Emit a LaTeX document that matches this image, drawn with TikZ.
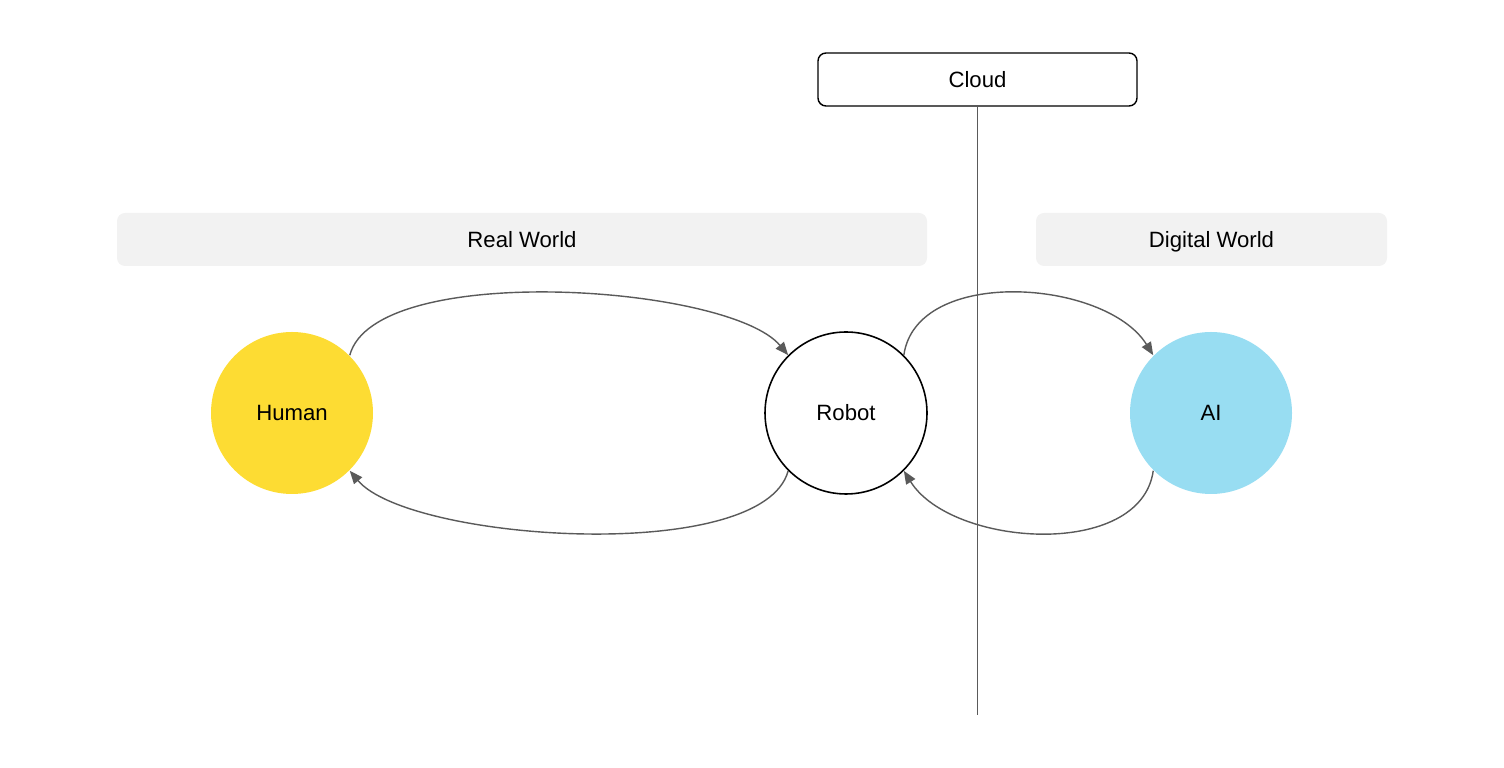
\documentclass[tikz,border=0pt]{standalone}
\usepackage{fontspec}
\setmainfont{Liberation Sans}
\usepackage{tikz}
\usetikzlibrary{arrows.meta}
\definecolor{humanyellow}{RGB}{253,220,51}
\definecolor{aiblue}{RGB}{152,221,242}
\definecolor{worldgray}{RGB}{242,242,242}
\definecolor{linkgray}{RGB}{90,90,90}
\tikzset{%
  >={Triangle[width=1.05mm,length=1.3mm]},
            base/.style = {rectangle, rounded corners=0.8mm, inner sep=0pt,
                           minimum height=0.53cm, text centered,
                           text height=1.6mm, text depth=0pt,
                           font=\fontsize{6.3}{7.5}\selectfont},
  cloudbox/.style = {base, draw=black, line width=0.4pt, fill=white},
  world/.style    = {base, fill=worldgray},
  agent/.style    = {circle, inner sep=0pt, minimum size=1.62cm,
                     text height=1.6mm, text depth=0pt,
                     font=\fontsize{6.3}{7.5}\selectfont},
  link/.style     = {->, draw=linkgray, line width=0.4pt},
}
\begin{document}
\begin{tikzpicture}
  \useasboundingbox (0,0) rectangle (15.04,7.68);

  \node (cloud)   [cloudbox, minimum width=3.19cm] at (9.775,6.885) {Cloud};
  \node (real)    [world, minimum width=8.10cm]    at (5.22,5.285)  {Real World};
  \node (digital) [world, minimum width=3.51cm]    at (12.115,5.285) {Digital World};

  \node (human) [agent, fill=humanyellow]                    at (2.92,3.55)  {Human};
  \node (robot) [agent, draw=black, line width=0.45pt]       at (8.46,3.55)  {Robot};
  \node (ai)    [agent, fill=aiblue]                         at (12.11,3.55) {AI};

  \coordinate (cut) at (9.775,0.53);
  \draw[draw=linkgray, line width=0.45pt] (cloud) -- (cut);

  % real world loop
  \draw[link] (human.45)  to[out=75,in=130,out distance=0.98cm,in distance=0.92cm] (robot.135);
  \draw[link] (robot.225) to[out=-105,in=-50,out distance=0.98cm,in distance=0.92cm] (human.-45);
  % digital world loop
  \draw[link] (robot.45)  to[out=82,in=122,out distance=0.9cm,in distance=0.9cm] (ai.135);
  \draw[link] (ai.-135)   to[out=-98,in=-58,out distance=0.9cm,in distance=0.9cm] (robot.-45);
\end{tikzpicture}
\end{document}
